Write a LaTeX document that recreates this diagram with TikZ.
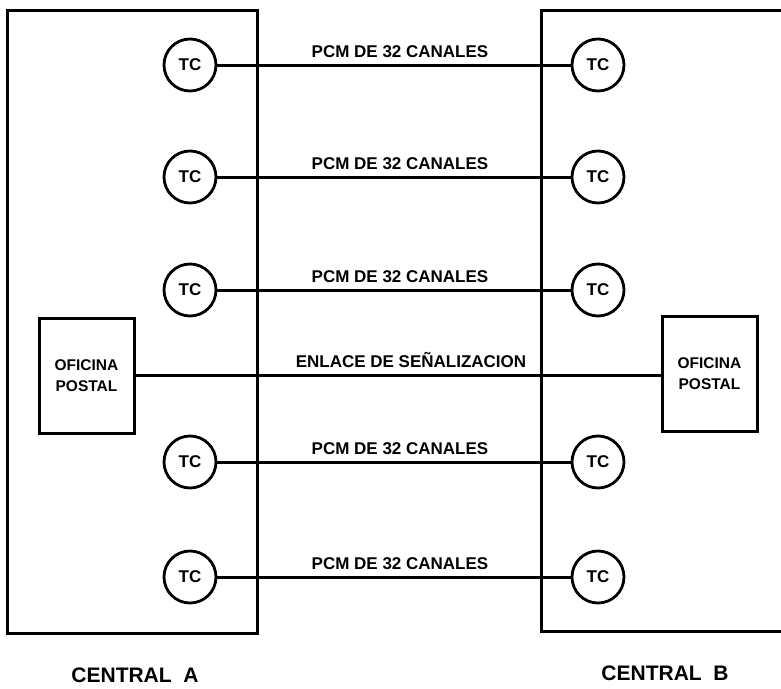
\documentclass[tikz,border=0pt]{standalone}
\usepackage{fontspec}
\setmainfont{Liberation Sans}
\begin{document}
\begin{tikzpicture}[x=1pt,y=-1pt,
  ln/.style={line width=3pt},
  tc/.style={circle,draw,line width=2.8pt,minimum size=52pt,inner sep=0pt,font=\fontsize{17}{17}\selectfont\bfseries},
  ofi/.style={rectangle,draw,line width=3pt,minimum width=95pt,minimum height=115pt,inner sep=0pt,align=center,font=\fontsize{15.5}{21}\selectfont\bfseries},
  lbl/.style={anchor=base,inner sep=0pt,font=\fontsize{17}{17}\selectfont\bfseries},
  cen/.style={anchor=base,inner sep=0pt,font=\fontsize{21}{20}\selectfont\bfseries}]
\useasboundingbox (0,0) rectangle (781,688);
% Central A box
\node[draw,ln,rectangle,minimum width=250pt,minimum height=623pt,inner sep=0pt] (centA) at (132,321.5) {};
% Central B box (open on the right)
\coordinate (bTR) at (781,10);
\coordinate (bBR) at (781,631);
\draw[ln,line cap=rect] (bTR) -- (541,10) coordinate (bTL) -- (541,631) coordinate (bBL) -- (bBR);
% TC circles
\foreach \i/\y in {1/65,2/177,3/290,4/462,5/577}{
  \node[tc] (tcL\i) at (190,\y) {TC};
  \node[tc] (tcR\i) at (598,\y) {TC};
  \draw[ln] (tcL\i) -- (tcR\i);
  \node[lbl] (pcm\i) at (400,\y-8) {PCM DE 32 CANALES};
}
% Oficina postal boxes
\node[ofi] (ofA) at (86.5,375.5) {OFICINA\\POSTAL};
\node[ofi] (ofB) at (709.5,374) {OFICINA\\POSTAL};
\draw[ln] (ofA.east |- 0,375) coordinate (sA) -- (ofB.west |- 0,375) coordinate (sB);
\node[lbl] (sig) at (411,367) {ENLACE DE SEÑALIZACION};
% Titles
\node[cen] (tA) at (135,682) {CENTRAL\ \ A};
\node[cen] (tB) at (665,680) {CENTRAL\ \ B};
\end{tikzpicture}
\end{document}
